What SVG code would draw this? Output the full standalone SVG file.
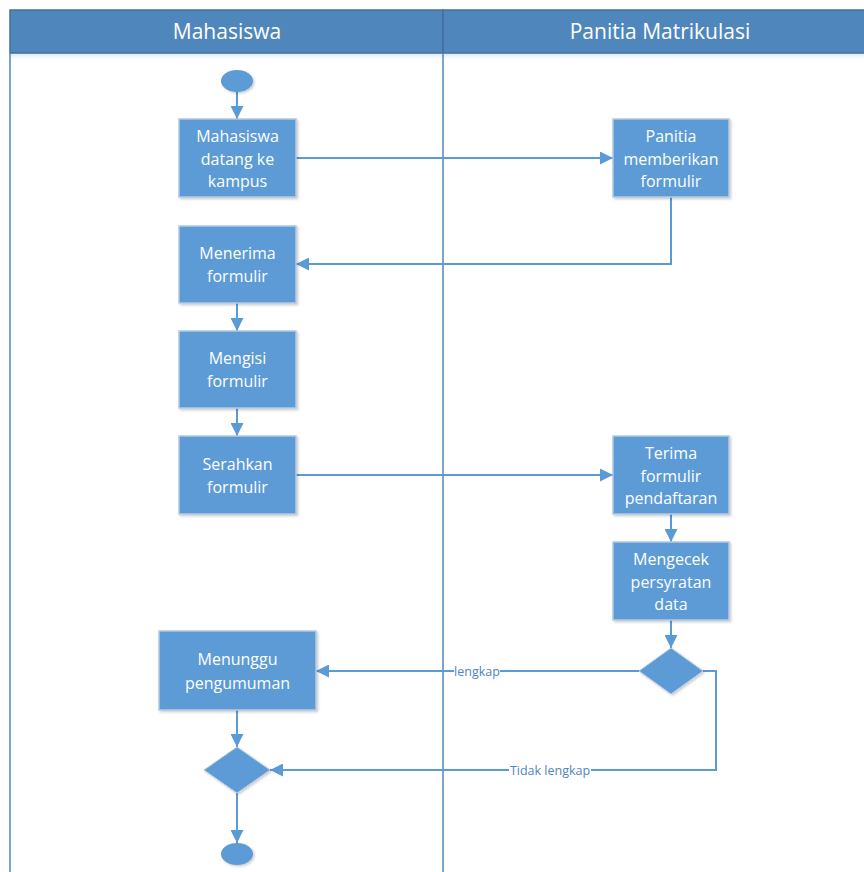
<svg xmlns="http://www.w3.org/2000/svg" width="864" height="872" viewBox="0 0 864 872">
<defs>
<style>
.box{fill:#5b9bd5;stroke:#b4c9e2;stroke-width:1.5;filter:url(#sh)}
.dec{fill:#5b9bd5;stroke:#b4c9e2;stroke-width:1;filter:url(#sh)}
.t{font-family:"Open Sans","Liberation Sans",sans-serif;font-size:16px;fill:#ffffff;text-anchor:middle}
.h{font-family:"Open Sans","Liberation Sans",sans-serif;font-size:21px;fill:#ffffff;text-anchor:middle}
.c{fill:none;stroke:#5b9bd5;stroke-width:2}
.lbl{font-family:"Open Sans","Liberation Sans",sans-serif;font-size:12.5px;fill:#4f86bd;text-anchor:middle}
</style>
<marker id="ah" viewBox="0 0 10 10" refX="10" refY="5" markerWidth="6.5" markerHeight="6.5" orient="auto" markerUnits="strokeWidth">
<path d="M0,0 L10,5 L0,10 z" fill="#5b9bd5"/>
</marker>
<filter id="sh" x="-10%" y="-10%" width="130%" height="130%">
<feDropShadow dx="1.5" dy="1.5" stdDeviation="1.2" flood-color="#000" flood-opacity="0.2"/>
</filter>
<linearGradient id="hs" x1="0" y1="0" x2="0" y2="1">
<stop offset="0" stop-color="#c9d8ea" stop-opacity="0.8"/>
<stop offset="1" stop-color="#ffffff" stop-opacity="0"/>
</linearGradient>
</defs>
<rect width="864" height="872" fill="#ffffff"/>
<g id="lanes">
<rect x="10" y="53" width="854" height="8" fill="url(#hs)"/>
<rect x="10" y="10" width="433" height="43" fill="#4f87bd" stroke="#41709f" stroke-width="1.5"/>
<rect x="443" y="10" width="423" height="43" fill="#4f87bd" stroke="#41709f" stroke-width="1.5"/>
<line x1="10" y1="53" x2="10" y2="872" stroke="#4f87bd" stroke-width="1.5"/>
<line x1="443" y1="53" x2="443" y2="872" stroke="#4f87bd" stroke-width="1.5"/>
<text class="h" x="227" y="38.5">Mahasiswa</text>
<text class="h" x="660" y="38.5">Panitia Matrikulasi</text>
</g>
<g id="connectors">
<path class="c" d="M237,92 V119" marker-end="url(#ah)"/>
<path class="c" d="M296,158 H613" marker-end="url(#ah)"/>
<path class="c" d="M671,197 V264 H296" marker-end="url(#ah)"/>
<path class="c" d="M237,303 V331" marker-end="url(#ah)"/>
<path class="c" d="M237,408 V436" marker-end="url(#ah)"/>
<path class="c" d="M296,475 H613" marker-end="url(#ah)"/>
<path class="c" d="M671,514 V542" marker-end="url(#ah)"/>
<path class="c" d="M671,620 V648" marker-end="url(#ah)"/>
<path class="c" d="M639,671 H316" marker-end="url(#ah)"/>
<path class="c" d="M703,671 H716 V770 H270" marker-end="url(#ah)"/>
<path class="c" d="M237,710 V747" marker-end="url(#ah)"/>
<path class="c" d="M237,793 V843" marker-end="url(#ah)"/>
<rect x="454" y="663" width="46" height="16" fill="#ffffff"/>
<text class="lbl" x="477" y="676">lengkap</text>
<rect x="509" y="762" width="82" height="16" fill="#ffffff"/>
<text class="lbl" x="550" y="775">Tidak lengkap</text>
</g>
<g id="start"><ellipse cx="237" cy="81" rx="16" ry="11" fill="#5b9bd5" filter="url(#sh)"/></g>
<g id="n1"><rect class="box" x="179" y="119" width="117" height="78"/>
<text class="t" x="237.5" y="142">Mahasiswa</text><text class="t" x="237.5" y="164.5">datang ke</text><text class="t" x="237.5" y="187">kampus</text></g>
<g id="n2"><rect class="box" x="613" y="119" width="116" height="78"/>
<text class="t" x="671" y="142">Panitia</text><text class="t" x="671" y="164.5">memberikan</text><text class="t" x="671" y="187">formulir</text></g>
<g id="n3"><rect class="box" x="179" y="226" width="117" height="77"/>
<text class="t" x="237.5" y="259">Menerima</text><text class="t" x="237.5" y="281.5">formulir</text></g>
<g id="n4"><rect class="box" x="179" y="331" width="117" height="77"/>
<text class="t" x="237.5" y="364">Mengisi</text><text class="t" x="237.5" y="387">formulir</text></g>
<g id="n5"><rect class="box" x="179" y="436" width="117" height="78"/>
<text class="t" x="237.5" y="470">Serahkan</text><text class="t" x="237.5" y="492.5">formulir</text></g>
<g id="n6"><rect class="box" x="613" y="436" width="116" height="78"/>
<text class="t" x="671" y="459">Terima</text><text class="t" x="671" y="481.5">formulir</text><text class="t" x="671" y="504">pendaftaran</text></g>
<g id="n7"><rect class="box" x="613" y="542" width="116" height="78"/>
<text class="t" x="671" y="565">Mengecek</text><text class="t" x="671" y="587.5">persyratan</text><text class="t" x="671" y="610">data</text></g>
<g id="d1"><path class="dec" d="M671,648 L703,671 L671,694 L639,671 z"/></g>
<g id="n8"><rect class="box" x="159" y="631" width="157" height="79"/>
<text class="t" x="237.5" y="665">Menunggu</text><text class="t" x="237.5" y="689">pengumuman</text></g>
<g id="d2"><path class="dec" d="M237,747 L270,770 L237,793 L204,770 z"/></g>
<g id="end"><ellipse cx="237" cy="854" rx="16" ry="11" fill="#5b9bd5" filter="url(#sh)"/></g>
</svg>
